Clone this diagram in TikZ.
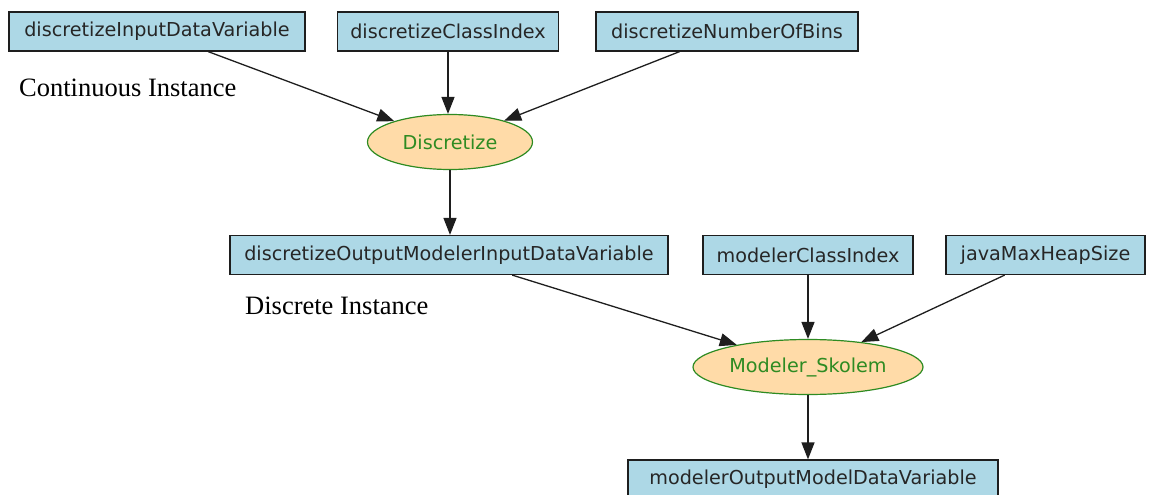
\documentclass[tikz,border=0pt]{standalone}
\usepackage{fontspec}
\setmainfont{Liberation Serif}
\newfontfamily\dejavu{DejaVu Sans}
\usetikzlibrary{shapes.geometric,arrows.meta,calc}
\definecolor{boxfill}{HTML}{ADD8E6}
\definecolor{procfill}{HTML}{FFDBA8}
\definecolor{procline}{HTML}{2E8B22}
\definecolor{edgecol}{HTML}{1E1E1E}
\tikzset{
  varbox/.style={draw=edgecol, line width=1.2pt, fill=boxfill, rectangle,
    minimum height=39pt, inner sep=0pt, font=\dejavu\fontsize{19.2}{21}\selectfont, text=black!85},
  procnode/.style={draw=procline, line width=1.2pt, fill=procfill, ellipse,
    minimum height=55pt, inner sep=0pt, font=\dejavu\fontsize{19.2}{21}\selectfont, text=procline},
  caption/.style={anchor=west, inner sep=0pt, font=\fontsize{26.5}{28}\selectfont},
  flow/.style={draw=edgecol, line width=1.3pt, -{Triangle[length=17pt,width=13pt]}}
}
\begin{document}
\begin{tikzpicture}[x=1pt,y=-1pt]
  \useasboundingbox (0,0) rectangle (1149,495);
  % input variables of the discretisation step
  \node[varbox, minimum width=296pt] (din) at (157,31.5) {discretizeInputDataVariable};
  \node[varbox, minimum width=221pt] (dci) at (448,31.5) {discretizeClassIndex};
  \node[varbox, minimum width=262pt] (dnb) at (727,31.5) {discretizeNumberOfBins};
  \node[caption] (cont) at (19,88) {Continuous Instance};
  % discretisation process
  \node[procnode, minimum width=165pt] (disc) at (450,142) {Discretize};
  % intermediate data and modeler inputs
  \node[varbox, minimum width=438pt] (mid) at (449,255) {discretizeOutputModelerInputDataVariable};
  \node[varbox, minimum width=210pt] (mci) at (808,255) {modelerClassIndex};
  \node[varbox, minimum width=199pt] (heap) at (1045.5,255) {javaMaxHeapSize};
  \node[caption] (disc-label) at (245,306) {Discrete Instance};
  % modelling process and its output
  \node[procnode, minimum width=230pt] (skolem) at (808,367) {Modeler\_Skolem};
  \node[varbox, minimum width=370pt] (out) at (813,479.5) {modelerOutputModelDataVariable};

  % edge start points on the lower sides of the boxes
  \coordinate (din-o) at ($(din.south west)!0.672!(din.south east)$);
  \coordinate (dnb-o) at ($(dnb.south west)!0.32!(dnb.south east)$);
  \coordinate (mid-o) at ($(mid.south west)!0.644!(mid.south east)$);
  \coordinate (heap-o) at ($(heap.south west)!0.296!(heap.south east)$);

  \draw[flow] (din-o) -- (disc);
  \draw[flow] (dci.south) -- (dci.south |- disc.north);
  \draw[flow] (dnb-o) -- (disc);
  \draw[flow] (disc.south) -- (disc.south |- mid.north);
  \draw[flow] (mid-o) -- (skolem);
  \draw[flow] (mci.south) -- (skolem.north);
  \draw[flow] (heap-o) -- (skolem);
  \draw[flow] (skolem.south) -- (skolem.south |- out.north);
\end{tikzpicture}
\end{document}
